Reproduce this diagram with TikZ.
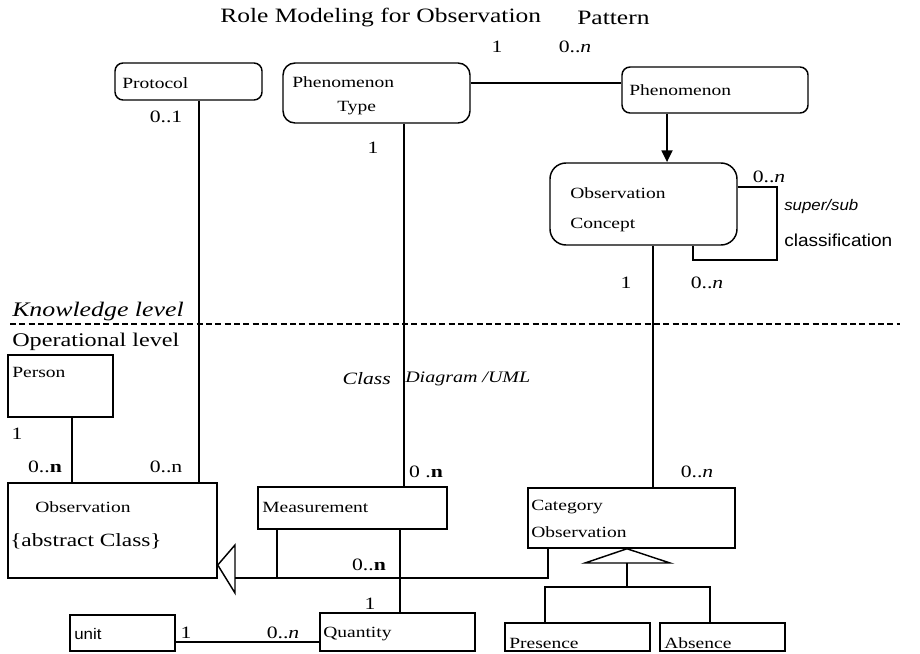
\documentclass[tikz,border=0pt]{standalone}
\usepackage{fontspec}
\setmainfont{Liberation Serif}[FakeStretch=1.25]
\newfontfamily\labsans{Liberation Sans}[FakeStretch=1.1]
\usetikzlibrary{fit,arrows.meta}

\tikzset{
  box/.style={draw, line width=1.1pt, inner sep=0pt},
  rbox/.style={box, rounded corners=6pt},
  lbl/.style={inner sep=0pt, anchor=west, font=\fontsize{11.7}{13}\selectfont},
  mult/.style={inner sep=0pt, font=\fontsize{13}{15}\selectfont},
  level/.style={inner sep=0pt, anchor=west, font=\fontsize{14.5}{16}\selectfont},
  conn/.style={line width=1.1pt},
}

\begin{document}
\begin{tikzpicture}[x=0.75pt,y=-0.75pt]
\useasboundingbox (0,0) rectangle (920,653);

% title
\node[inner sep=0pt, anchor=west, font=\fontsize{15.3}{17}\selectfont] (title1) at (220,18) {Role Modeling for Observation};
\node[inner sep=0pt, anchor=west, font=\fontsize{15.3}{17}\selectfont] (title2) at (577,18) {Pattern};

% knowledge level classes
\node[rbox, fit={(115,63)(262,100)}] (protocol) {};
\node[lbl] (protocol-t) at (122,83) {Protocol};

\node[rbox, rounded corners=9pt, fit={(283,63)(470,123)}] (phentype) {};
\node[lbl] (phentype-t1) at (292,82) {Phenomenon};
\node[lbl] (phentype-t2) at (337,108) {Type};

\node[rbox, fit={(622,67)(808,113)}] (phen) {};
\node[lbl] (phen-t) at (629,90) {Phenomenon};

\node[rbox, rounded corners=12pt, fit={(550,163)(737,245)}] (obsconcept) {};
\node[lbl] (obsconcept-t1) at (570,193) {Observation};
\node[lbl] (obsconcept-t2) at (570,225) {Concept};

% level separator
\coordinate (sepL) at (10,324);
\coordinate (sepR) at (900,324);
\draw[line width=1.1pt, dash pattern=on 4.5pt off 2.5pt] (sepL) -- (sepR);
\node[level, font=\fontsize{15.5}{17}\selectfont\itshape] (know) at (12,312) {Knowledge level};
\node[level] (oper) at (12,342) {Operational level};

% operational level classes
\node[box, fit={(8,355)(113,417)}] (person) {};
\node[lbl] (person-t) at (12,372) {Person};

\node[box, fit={(8,483)(217,578)}] (obs) {};
\node[lbl] (obs-t1) at (35,507) {Observation};
\node[lbl, font=\fontsize{14}{16}\selectfont] (obs-t2) at (10,541) {\{abstract Class\}};

\node[box, fit={(258,487)(447,529)}] (meas) {};
\node[lbl] (meas-t) at (262,507) {Measurement};

\node[box, fit={(528,488)(735,548)}] (catobs) {};
\node[lbl] (catobs-t1) at (531,507) {Category};
\node[lbl] (catobs-t2) at (531,532) {Observation};

\node[box, fit={(70,615)(175,651)}] (unit) {};
\node[lbl, font=\fontsize{11.5}{13}\selectfont\labsans] (unit-t) at (74,634) {unit};

\node[box, fit={(320,613)(475,651)}] (quantity) {};
\node[lbl] (quantity-t) at (323,634) {Quantity};

\node[box, fit={(505,623)(650,651)}] (presence) {};
\node[lbl] (presence-t) at (509,643) {Presence};

\node[box, fit={(660,623)(785,651)}] (absence) {};
\node[lbl] (absence-t) at (664,643) {Absence};

% attachment points of the connectors
\coordinate (xProt) at (199,0);
\coordinate (xPers) at (72,0);
\coordinate (xPT) at (404,0);
\coordinate (yPT) at (0,83);
\coordinate (xPhen) at (667,0);
\coordinate (xOC) at (653,0);
\coordinate (loopTR) at (777,187);
\coordinate (loopBL) at (693,260);
\coordinate (yTip) at (0,565);
\coordinate (genTop) at (235,545);
\coordinate (genBot) at (235,593);
\coordinate (yH) at (0,578);
\coordinate (xCOl) at (548,0);
\coordinate (xMl) at (277,0);
\coordinate (xQ) at (400,0);
\coordinate (yU) at (0,642);
\coordinate (xCG) at (627,0);
\coordinate (cgL) at (585,563);
\coordinate (cgR) at (670,563);
\coordinate (cgJ) at (627,587);
\coordinate (xPres) at (545,0);
\coordinate (xAbs) at (710,0);

% associations
\draw[conn] (protocol.south -| xProt) -- (obs.north -| xProt);
\draw[conn] (person.south -| xPers) -- (obs.north -| xPers);
\draw[conn] (phentype.south -| xPT) -- (meas.north -| xPT);
\draw[conn] (phentype.east |- yPT) -- (phen.west |- yPT);
\draw[line width=2pt, -{Triangle[length=9pt,width=8pt]}] (phen.south -| xPhen) -- (obsconcept.north -| xPhen);
\draw[conn] (obsconcept.east |- loopTR) -- (loopTR) |- (loopBL) -- (obsconcept.south -| loopBL);
\draw[conn] (obsconcept.south -| xOC) -- (catobs.north -| xOC);
\draw[conn] (meas.south -| xQ) -- (quantity.north -| xQ);
\draw[conn] (unit.east |- yU) -- (quantity.west |- yU);

% generalization to Observation
\draw[conn] (obs.east |- yTip) -- (genTop) -- (genBot) -- cycle;
\draw[conn] (catobs.south -| xCOl) |- (genTop |- yH);
\draw[conn] (meas.south -| xMl) -- (xMl |- yH);

% generalization to Category Observation
\draw[conn] (catobs.south -| xCG) -- (cgL) -- (cgR) -- cycle;
\draw[conn] (cgL -| xCG) -- (cgJ);
\draw[conn] (presence.north -| xPres) |- (cgJ) -| (absence.north -| xAbs);

% multiplicities
\node[mult] (m1) at (497,47) {1};
\node[mult] (m2) at (575,47) {0..\textit{n}};
\node[mult] (m3) at (166,117) {0..1};
\node[mult] (m4) at (373,148) {1};
\node[mult] (m5) at (769,177) {0..\textit{n}};
\node[mult] (m6) at (626,283) {1};
\node[mult] (m7) at (707,283) {0..\textit{n}};
\node[mult] (m8) at (17,434) {1};
\node[mult] (m9) at (45,467) {0..\textbf{n}};
\node[mult] (m10) at (166,467) {0..n};
\node[mult] (m11) at (426,472) {0 .\textbf{n}};
\node[mult] (m12) at (697,472) {0..\textit{n}};
\node[mult] (m13) at (369,565) {0..\textbf{n}};
\node[mult] (m14) at (370,604) {1};
\node[mult] (m15) at (186,633) {1};
\node[mult] (m16) at (283,633) {0..\textit{n}};

% annotations
\node[inner sep=0pt, anchor=west, font=\fontsize{11.5}{14}\selectfont\labsans\itshape] (sup) at (784,207) {super/sub};
\node[inner sep=0pt, anchor=west, font=\fontsize{13}{15}\selectfont\labsans] (cls) at (784,240) {classification};
\node[inner sep=0pt, anchor=east, font=\fontsize{13}{15}\selectfont\itshape] (cd1) at (391,379) {Class};
\node[inner sep=0pt, anchor=west, font=\fontsize{12}{14}\selectfont\itshape] (cd2) at (405,379) {Diagram /UML};
\end{tikzpicture}
\end{document}
